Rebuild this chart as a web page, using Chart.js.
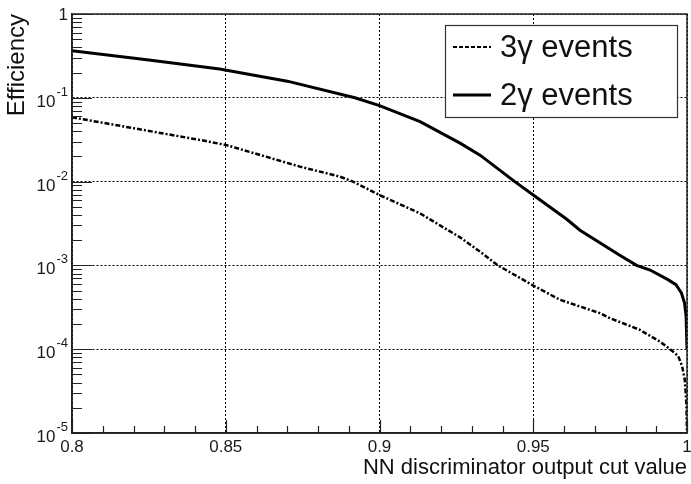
<!DOCTYPE html>
<html lang="en">
<head>
<meta charset="UTF-8">
<title>NN efficiency</title>
<script src="https://cdn.jsdelivr.net/npm/chart.js@4.4.0/dist/chart.umd.min.js"></script>
<style>
  html, body { margin: 0; padding: 0; background: #fff; }
  #box { width: 691px; height: 484px; }
</style>
</head>
<body>
<div id="box"><canvas id="myChart" width="691" height="484"></canvas></div>
<script>
// 3 gamma events (dashed)
const cut3 = [0.8, 0.8416, 0.85, 0.8741, 0.887, 0.8914, 0.9, 0.9132, 0.9262, 0.9327, 0.9385, 0.95,
              0.9587, 0.9717, 0.975, 0.9847, 0.9912, 0.9945, 0.9971, 0.9984, 0.9993, 0.9998, 1.0];
const eff3 = [0.0585, 0.0314, 0.0274, 0.0151, 0.0115, 0.0100, 0.00692, 0.00417, 0.00216, 0.00146, 0.00100, 0.000575,
              0.000389, 0.000269, 0.000234, 0.000170, 0.000123, 0.000100, 0.0000832, 0.0000631, 0.0000427, 0.0000224, 0.00001];
// 2 gamma events (solid)
const cut2 = [0.8, 0.825, 0.848, 0.87, 0.892, 0.9, 0.9132, 0.9262, 0.9327, 0.944, 0.95, 0.9609, 0.9652,
              0.978, 0.9836, 0.988, 0.9938, 0.9964, 0.9982, 0.9992, 0.9997, 1.0];
const eff2 = [0.365, 0.282, 0.221, 0.158, 0.100, 0.0805, 0.0519, 0.0288, 0.0207, 0.0100, 0.00692, 0.00355, 0.00263,
              0.00133, 0.00100, 0.000881, 0.000676, 0.000589, 0.000468, 0.000355, 0.000251, 0.0001];

const seriesLabels = ['3\u03b3 events', '2\u03b3 events'];
const xTicks = [0.8, 0.85, 0.9, 0.95, 1];
const xTickLabels = ['0.8', '0.85', '0.9', '0.95', '1'];
const yTicks = [1e-5, 1e-4, 1e-3, 1e-2, 1e-1, 1];
const yTickExps = ['-5', '-4', '-3', '-2', '-1', ''];

const toPoints = (xs, ys) => xs.map((x, i) => ({x: x, y: ys[i]}));
const font = "'Liberation Sans', Arial, sans-serif";

// frame, inward tick marks, y labels with exponents (ROOT style) and the legend box
const rootStyle = {
  id: 'rootStyle',
  afterDraw(chart) {
    const {ctx, chartArea: a, scales} = chart;
    const xs = scales.x, ys = scales.y;
    ctx.save();
    ctx.strokeStyle = '#222';
    ctx.lineWidth = 1.5;
    ctx.setLineDash([]);
    ctx.strokeRect(a.left, a.top, a.right - a.left, a.bottom - a.top);

    ctx.lineWidth = 1.2;
    ctx.beginPath();
    for (let e = -5; e <= 0; e++) {
      for (let m = 1; m <= 9; m++) {
        const v = m * Math.pow(10, e);
        if (v > 1.0001) break;
        const py = Math.round(ys.getPixelForValue(v)) + 0.5;
        const len = m === 1 ? 20 : 10;
        ctx.moveTo(a.left, py);
        ctx.lineTo(a.left + len, py);
      }
    }
    for (let i = 0; i <= 20; i++) {
      const v = 0.8 + i * 0.01;
      const px = Math.round(xs.getPixelForValue(v)) + 0.5;
      const len = i % 5 === 0 ? 13 : 7;
      ctx.moveTo(px, a.bottom);
      ctx.lineTo(px, a.bottom - len);
    }
    ctx.stroke();

    // y tick labels: 10 with a raised exponent
    ctx.fillStyle = '#1a1a1a';
    ctx.textBaseline = 'alphabetic';
    ctx.textAlign = 'right';
    yTicks.forEach((v, i) => {
      const py = ys.getPixelForValue(v);
      const exp = yTickExps[i];
      const right = a.left - 4;
      if (!exp) {
        ctx.font = '17px ' + font;
        ctx.fillText('1', right, py + 6);
        return;
      }
      ctx.font = '13px ' + font;
      const ew = ctx.measureText(exp).width;
      ctx.fillText(exp, right, py - 2);
      ctx.font = '17px ' + font;
      ctx.fillText('10', right - ew - 1, py + 9);
    });

    // legend
    const bx = a.right - 242, by = a.top + 11, bw = 232, bh = 92;
    ctx.fillStyle = '#fff';
    ctx.fillRect(bx, by, bw, bh);
    ctx.strokeStyle = '#333';
    ctx.lineWidth = 1.2;
    ctx.strokeRect(bx + 0.5, by + 0.5, bw, bh);
    chart.data.datasets.forEach((ds, i) => {
      const cy = by + 22 + i * 48;
      ctx.strokeStyle = '#000';
      ctx.lineWidth = i === 0 ? 2 : 3;
      ctx.setLineDash(i === 0 ? [4, 2] : []);
      ctx.beginPath();
      ctx.moveTo(bx + 8, cy);
      ctx.lineTo(bx + 46, cy);
      ctx.stroke();
      ctx.setLineDash([]);
      ctx.fillStyle = '#111';
      ctx.font = '31px ' + font;
      ctx.textBaseline = 'middle';
      ctx.textAlign = 'left';
      ctx.fillText(ds.label, bx + 55, cy + 1);
    });
    ctx.restore();
  }
};

const ctx = document.getElementById('myChart').getContext('2d');
const myChart = new Chart(ctx, {
  type: 'scatter',
  data: {
    datasets: [{
      label: seriesLabels[0],
      data: toPoints(cut3, eff3),
      showLine: true,
      borderColor: '#000',
      borderWidth: 2.5,
      borderDash: [5, 2, 2, 2],
      pointRadius: 0,
      tension: 0
    }, {
      label: seriesLabels[1],
      data: toPoints(cut2, eff2),
      showLine: true,
      borderColor: '#000',
      borderWidth: 3,
      pointRadius: 0,
      tension: 0
    }]
  },
  options: {
    responsive: false,
    animation: false,
    layout: { padding: { top: 14, right: 4, left: 0, bottom: 0 } },
    plugins: { legend: { display: false }, tooltip: { enabled: false } },
    scales: {
      x: {
        type: 'linear',
        min: 0.8,
        max: 1,
        afterBuildTicks: s => { s.ticks = xTicks.map(v => ({value: v})); },
        afterFit: s => { s.height = 51; s.paddingRight = 0; s.paddingLeft = 0; },
        ticks: {
          autoSkip: false,
          maxRotation: 0,
          padding: 4,
          color: '#1a1a1a',
          font: { family: font, size: 17 },
          callback: (v, i) => xTickLabels[i]
        },
        grid: { color: '#000', lineWidth: 1, drawTicks: false },
        border: { display: true, color: '#222', width: 1.5, dash: [2, 2] },
        title: {
          display: true,
          text: 'NN discriminator output cut value',
          align: 'end',
          color: '#111',
          font: { family: font, size: 22 },
          padding: { top: 0, bottom: 3 }
        }
      },
      y: {
        type: 'logarithmic',
        min: 1e-5,
        max: 1,
        afterBuildTicks: s => { s.ticks = yTicks.map(v => ({value: v})); },
        afterFit: s => { s.width = 72; s.paddingTop = 0; s.paddingBottom = 0; },
        ticks: { display: false },
        grid: { color: '#000', lineWidth: 1, drawTicks: false },
        border: { display: true, color: '#222', width: 1.5, dash: [2, 2] },
        title: {
          display: true,
          text: 'Efficiency',
          align: 'end',
          color: '#111',
          font: { family: font, size: 24 },
          padding: { top: 3, bottom: 0 }
        }
      }
    }
  },
  plugins: [rootStyle]
});
</script>
</body>
</html>
